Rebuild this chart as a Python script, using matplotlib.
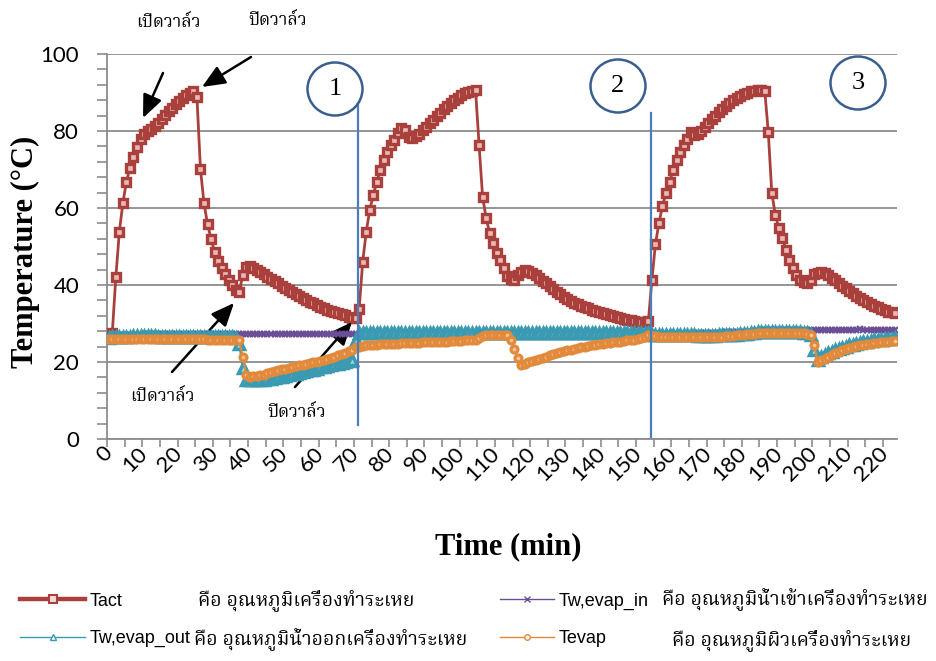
import matplotlib
matplotlib.use("Agg")
import matplotlib.pyplot as plt
from matplotlib import font_manager as fm
from matplotlib.lines import Line2D
from matplotlib.patches import Ellipse
from matplotlib.ticker import MultipleLocator, FixedLocator
import numpy as np

# ---------------- data ----------------
TACT = [
    27.0, 27.6, 42.0, 53.8, 61.3, 66.8, 70.4, 73.3, 75.9, 77.9,
    79.3, 80.0, 80.5, 81.2, 82.1, 83.1, 84.1, 85.1, 86.0, 86.9,
    87.8, 88.6, 89.3, 89.9, 90.4, 88.8, 70.1, 61.3, 55.8, 52.0,
    48.6, 46.2, 44.4, 42.8, 41.4, 40.0, 38.8, 38.2, 42.6, 44.8,
    45.0, 44.5, 44.0, 43.4, 42.8, 42.2, 41.6, 41.0, 40.4, 39.8,
    39.2, 38.7, 38.1, 37.6, 37.1, 36.6, 36.1, 35.7, 35.2, 34.8,
    34.4, 34.0, 33.6, 33.3, 33.0, 32.7, 32.4, 32.1, 31.8, 31.5,
    31.3, 33.8, 46.0, 53.8, 59.5, 63.4, 66.8, 69.9, 72.5, 74.5,
    76.4, 77.7, 79.5, 80.8, 80.2, 78.4, 78.3, 78.6, 79.3, 80.2,
    81.1, 82.0, 82.9, 83.8, 84.7, 85.6, 86.4, 87.2, 88.0, 88.7,
    89.3, 89.8, 90.2, 90.5, 90.6, 76.4, 62.9, 57.4, 53.5, 50.9,
    48.3, 46.5, 44.4, 42.3, 41.5, 41.3, 42.5, 43.4, 43.9, 43.6,
    43.1, 42.5, 41.8, 41.1, 40.4, 39.7, 39.0, 38.3, 37.6, 37.0,
    36.4, 35.9, 35.4, 35.0, 34.6, 34.2, 33.9, 33.6, 33.3, 33.0,
    32.7, 32.4, 32.1, 31.9, 31.6, 31.4, 31.2, 31.0, 30.8, 30.7,
    30.5, 30.4, 30.3, 30.6, 41.3, 50.6, 56.1, 60.5, 63.9, 66.8,
    69.9, 72.5, 74.5, 76.4, 77.9, 79.7, 79.0, 79.3, 80.0, 81.0,
    82.0, 83.0, 84.0, 84.9, 85.8, 86.6, 87.4, 88.1, 88.7, 89.2,
    89.7, 90.0, 90.3, 90.5, 90.6, 90.6, 90.5, 79.7, 63.9, 58.2,
    54.8, 52.2, 49.1, 46.5, 44.4, 42.6, 41.3, 40.8, 40.5, 41.2,
    42.8, 43.2, 43.3, 43.0, 42.5, 41.9, 41.2, 40.5, 39.8, 39.1,
    38.4, 37.8, 37.2, 36.6, 36.0, 35.5, 35.0, 34.6, 34.2, 33.8,
    33.4, 33.1, 32.9, 32.7,
]

TW_EVAP_IN = [
    26.8, 26.9, 26.9, 27.0, 27.0, 27.0, 27.1, 27.1, 27.1, 27.1,
    27.2, 27.2, 27.2, 27.2, 27.2, 27.2, 27.2, 27.3, 27.3, 27.3,
    27.3, 27.3, 27.2, 27.3, 27.3, 27.3, 27.3, 27.4, 27.3, 27.3,
    27.3, 27.3, 27.3, 27.3, 27.4, 27.3, 27.3, 27.3, 27.3, 27.2,
    27.2, 27.2, 27.2, 27.2, 27.2, 27.2, 27.2, 27.2, 27.2, 27.2,
    27.2, 27.2, 27.3, 27.3, 27.3, 27.3, 27.3, 27.3, 27.3, 27.3,
    27.3, 27.3, 27.3, 27.3, 27.3, 27.3, 27.3, 27.3, 27.4, 27.4,
    27.4, 27.3, 27.2, 27.1, 27.0, 27.0, 27.0, 26.9, 26.9, 26.9,
    26.9, 26.9, 26.9, 26.9, 26.9, 26.9, 27.0, 27.0, 27.0, 27.0,
    27.0, 27.0, 27.0, 27.0, 27.0, 27.1, 27.1, 27.1, 27.1, 27.1,
    27.1, 27.1, 27.1, 27.1, 27.1, 27.1, 27.2, 27.2, 27.2, 27.2,
    27.2, 27.2, 27.2, 27.2, 27.2, 27.2, 27.2, 27.2, 27.2, 27.2,
    27.2, 27.2, 27.2, 27.2, 27.2, 27.2, 27.2, 27.2, 27.2, 27.2,
    27.2, 27.2, 27.2, 27.2, 27.2, 27.2, 27.2, 27.2, 27.2, 27.2,
    27.2, 27.2, 27.2, 27.2, 27.2, 27.2, 27.2, 27.2, 27.2, 27.2,
    27.2, 27.2, 27.2, 27.2, 27.3, 27.3, 27.3, 27.3, 27.3, 27.3,
    27.4, 27.4, 27.4, 27.4, 27.4, 27.5, 27.5, 27.5, 27.5, 27.5,
    27.6, 27.6, 27.6, 27.6, 27.7, 27.7, 27.7, 27.7, 27.8, 27.8,
    27.8, 27.9, 27.9, 28.0, 28.1, 28.2, 28.3, 28.4, 28.4, 28.4,
    28.4, 28.4, 28.4, 28.4, 28.4, 28.4, 28.4, 28.4, 28.4, 28.4,
    28.4, 28.4, 28.4, 28.4, 28.4, 28.4, 28.4, 28.4, 28.4, 28.4,
    28.4, 28.4, 28.4, 28.5, 28.4, 28.4, 28.4, 28.4, 28.4, 28.4,
    28.4, 28.4, 28.4, 28.4,
]

TW_EVAP_OUT = [
    26.3, 26.4, 26.5, 26.5, 26.6, 26.6, 26.6, 26.7, 26.7, 26.7,
    26.7, 26.7, 26.7, 26.7, 26.6, 26.6, 26.6, 26.6, 26.6, 26.6,
    26.6, 26.5, 26.5, 26.5, 26.5, 26.5, 26.5, 26.5, 26.5, 26.5,
    26.5, 26.5, 26.4, 26.4, 26.4, 26.4, 26.3, 24.6, 18.5, 15.4,
    15.3, 15.3, 15.3, 15.4, 15.4, 15.5, 15.6, 15.8, 16.0, 16.2,
    16.4, 16.6, 16.8, 17.0, 17.2, 17.4, 17.6, 17.8, 18.0, 18.3,
    18.6, 18.8, 19.0, 19.2, 19.4, 19.6, 19.8, 20.0, 20.2, 20.5,
    25.8, 27.5, 27.5, 27.5, 27.6, 27.6, 27.6, 27.6, 27.6, 27.6,
    27.6, 27.6, 27.6, 27.6, 27.6, 27.6, 27.6, 27.6, 27.6, 27.6,
    27.6, 27.6, 27.6, 27.6, 27.6, 27.6, 27.6, 27.6, 27.6, 27.6,
    27.6, 27.6, 27.6, 27.6, 27.6, 27.6, 27.6, 27.6, 27.6, 27.6,
    27.6, 27.6, 27.6, 27.6, 27.6, 27.6, 27.6, 27.6, 27.6, 27.6,
    27.6, 27.6, 27.6, 27.6, 27.6, 27.6, 27.6, 27.6, 27.6, 27.6,
    27.6, 27.6, 27.6, 27.6, 27.6, 27.6, 27.6, 27.6, 27.6, 27.6,
    27.6, 27.6, 27.6, 27.6, 27.6, 27.6, 27.6, 27.6, 27.6, 27.6,
    27.6, 27.6, 27.6, 27.5, 27.0, 26.9, 26.9, 26.9, 26.9, 26.9,
    26.9, 26.9, 26.9, 26.9, 26.9, 26.9, 26.9, 26.8, 26.8, 26.8,
    26.8, 26.8, 26.8, 26.9, 26.9, 26.9, 27.0, 27.0, 27.1, 27.2,
    27.3, 27.4, 27.5, 27.6, 27.7, 27.7, 27.7, 27.7, 27.7, 27.7,
    27.7, 27.7, 27.7, 27.7, 27.7, 27.7, 27.7, 27.6, 27.5, 26.9,
    23.1, 20.5, 21.3, 21.8, 22.3, 22.7, 23.1, 23.4, 23.7, 24.0,
    24.3, 24.5, 24.7, 24.9, 25.1, 25.3, 25.5, 25.6, 25.7, 25.8,
    25.9, 26.0, 26.1, 26.2,
]

TEVAP = [
    25.9, 26.0, 26.0, 26.0, 26.1, 26.1, 26.1, 26.1, 26.1, 26.1,
    26.1, 26.1, 26.1, 26.0, 26.0, 26.0, 26.0, 26.0, 26.0, 26.0,
    25.9, 25.9, 25.9, 25.9, 25.9, 25.9, 25.9, 25.9, 25.8, 25.8,
    25.8, 25.8, 25.8, 25.8, 25.8, 25.8, 25.8, 25.6, 21.3, 16.6,
    16.2, 16.3, 16.4, 16.5, 16.6, 17.2, 17.5, 17.7, 17.9, 18.1,
    18.3, 18.5, 18.7, 18.9, 19.1, 19.3, 19.5, 19.7, 19.9, 20.1,
    20.3, 20.5, 20.8, 21.1, 21.4, 21.7, 22.0, 22.4, 22.8, 23.2,
    23.8, 24.0, 24.2, 24.3, 24.4, 24.5, 24.5, 24.6, 24.6, 24.7,
    24.7, 24.8, 24.8, 24.9, 24.9, 24.9, 25.0, 25.0, 25.0, 25.1,
    25.1, 25.1, 25.2, 25.2, 25.2, 25.3, 25.3, 25.4, 25.4, 25.5,
    25.5, 25.6, 25.6, 25.7, 25.8, 26.3, 26.7, 26.9, 27.0, 27.0,
    27.0, 27.0, 27.0, 26.9, 25.7, 23.4, 21.0, 19.3, 19.6, 19.9,
    20.2, 20.5, 20.8, 21.1, 21.4, 21.7, 22.0, 22.3, 22.5, 22.8,
    23.0, 23.2, 23.4, 23.6, 23.8, 24.0, 24.1, 24.3, 24.4, 24.6,
    24.7, 24.9, 25.0, 25.1, 25.2, 25.3, 25.5, 25.6, 25.7, 25.8,
    26.0, 26.2, 26.5, 27.0, 26.8, 26.7, 26.6, 26.6, 26.6, 26.6,
    26.6, 26.6, 26.6, 26.6, 26.5, 26.5, 26.5, 26.5, 26.5, 26.5,
    26.5, 26.5, 26.6, 26.6, 26.6, 26.7, 26.7, 26.8, 26.9, 27.0,
    27.1, 27.2, 27.3, 27.4, 27.5, 27.5, 27.5, 27.5, 27.5, 27.5,
    27.6, 27.6, 27.6, 27.6, 27.6, 27.6, 27.6, 27.5, 27.4, 27.0,
    24.4, 20.0, 20.4, 20.9, 21.4, 21.9, 22.3, 22.7, 23.0, 23.3,
    23.6, 23.9, 24.1, 24.3, 24.5, 24.6, 24.8, 24.9, 25.0, 25.1,
    25.2, 25.3, 25.4, 25.5,
]

SERIES_NAMES = ["Tact", "Tw,evap_in", "Tw,evap_out", "Tevap"]
SERIES_DESC = ["คือ อุณหภูมิเครื่องทำระเหย", "คือ อุณหภูมิน้ำเข้าเครื่องทำระเหย",
               "คือ อุณหภูมิน้ำออกเครื่องทำระเหย", "คือ อุณหภูมิผิวเครื่องทำระเหย"]
X_TICK_VALUES = [0, 10, 20, 30, 40, 50, 60, 70, 80, 90, 100, 110,
                 120, 130, 140, 150, 160, 170, 180, 190, 200, 210, 220]
X_TICK_LABELS = ["0", "10", "20", "30", "40", "50", "60", "70", "80", "90", "100", "110",
                 "120", "130", "140", "150", "160", "170", "180", "190", "200", "210", "220"]
Y_TICKS = [0, 20, 40, 60, 80, 100]
OPEN_VALVE = "เปิดวาล์ว"
CLOSE_VALVE = "ปิดวาล์ว"
CYCLE_LABELS = ["1", "2", "3"]

# ---------------- fonts ----------------
names = {f.name for f in fm.fontManager.ttflist}


def thai_fonts():
    try:
        from fontTools.ttLib import TTFont
    except Exception:
        return []
    test = "กคืออุณหภูมิเครื่องทำระเหย้ปวาล์"
    out = []
    for f in fm.fontManager.ttflist:
        try:
            kw = {"fontNumber": 0} if f.fname.lower().endswith((".ttc", ".otc")) else {}
            tt = TTFont(f.fname, lazy=True, **kw)
            cmap = tt.getBestCmap() or {}
            if all(ord(c) in cmap for c in test):
                out.append(f.name)
        except Exception:
            pass
    return out


tf = thai_fonts()
pref = ["Noto Serif Thai", "Noto Sans Thai", "Norasi", "TH Sarabun New", "Loma",
        "Garuda", "Kinnari", "FreeSerif", "FreeSans"]
THAI = next((p for p in pref if p in tf), tf[0] if tf else "DejaVu Sans")
NARROW = "Liberation Sans Narrow" if "Liberation Sans Narrow" in names else "Liberation Sans"
TICKFONT = "Lato" if "Lato" in names else "DejaVu Sans"
SERIF = "Liberation Serif" if "Liberation Serif" in names else "DejaVu Serif"

plt.rcParams["font.family"] = [TICKFONT, "DejaVu Sans"]

W, H = 936, 661


def fx(x):
    return x / W


def fy(y):
    return 1 - y / H


RED = "#A9403C"
PURPLE = "#6B4E98"
TEAL = "#3A9AB2"
ORANGE = "#E28A3C"
GRAY = "#8C8C8C"
BLUE = "#4A7EBB"
CIRCLE = "#3A5F8F"

fig = plt.figure(figsize=(W / 100, H / 100), dpi=100)
ax = fig.add_axes([fx(107), fy(439), 790 / W, 385 / H])

ax.plot(np.arange(len(TACT)), TACT, color=RED, lw=2.0, marker="s", ms=5.6,
        mfc="#E9B7B5", mec=RED, mew=2.4, zorder=3)
ax.plot(np.arange(len(TW_EVAP_IN)), TW_EVAP_IN, color=PURPLE, lw=2.4, marker="x", ms=4,
        mew=1.6, zorder=4)
ax.plot(np.arange(len(TW_EVAP_OUT)), TW_EVAP_OUT, color=TEAL, lw=1.5, marker="^", ms=6.5,
        mfc="#9FD2E0", mec=TEAL, mew=2.5, zorder=5)
ax.plot(np.arange(len(TEVAP)), TEVAP, color=ORANGE, lw=1.5, marker="o", ms=5,
        mfc="#F6C496", mec=ORANGE, mew=2.3, zorder=6)

ax.set_xlim(-0.5, len(TACT) - 0.5)
ax.set_ylim(Y_TICKS[0], Y_TICKS[-1])
ax.set_yticks(Y_TICKS)
ax.yaxis.set_minor_locator(MultipleLocator(4))
ax.set_xticks(X_TICK_VALUES)
ax.set_xticklabels(X_TICK_LABELS)
ax.xaxis.set_minor_locator(FixedLocator(np.arange(-0.5, len(TACT) - 1, 5)))

ax.yaxis.grid(True, which="major", color=GRAY, lw=1.3)
ax.set_axisbelow(True)
for s in ["top", "right"]:
    ax.spines[s].set_visible(False)
for s in ["left", "bottom"]:
    ax.spines[s].set_color(GRAY)
    ax.spines[s].set_linewidth(1.3)

ax.tick_params(axis="y", which="both", direction="out", length=7, width=1.2,
               color=GRAY, labelsize=16, pad=13)
ax.tick_params(axis="x", which="major", length=0, labelsize=16, pad=8)
ax.tick_params(axis="x", which="minor", direction="out", length=6, width=1.2, color=GRAY)
for lab in ax.get_xticklabels():
    lab.set_rotation(45)
    lab.set_ha("right")
    lab.set_va("center")
    lab.set_rotation_mode("anchor")

ax.set_ylabel("Temperature (°C)", fontfamily=SERIF, fontweight="bold", fontsize=22)
ax.yaxis.label.set_va("center")
ax.yaxis.set_label_coords((25 - 107) / 790, (439 - 252) / 385)
ax.set_xlabel("Time (min)", fontfamily=SERIF, fontweight="bold", fontsize=22)
ax.xaxis.label.set_va("center")
ax.xaxis.set_label_coords((508 - 107) / 790, (439 - 547) / 385)

# ---------------- annotations ----------------
ann_text = [(OPEN_VALVE, 168, 22), (CLOSE_VALVE, 278, 20),
            (OPEN_VALVE, 162, 396), (CLOSE_VALVE, 297, 412)]
for t, px, py in ann_text:
    fig.text(fx(px), fy(py), t, ha="center", va="center", fontsize=12.5,
             family=[THAI, "DejaVu Sans"])

arrows = [((163, 73), (143, 118)), ((251, 57), (202, 87)),
          ((172, 372), (234, 303)), ((295, 387), (352, 322))]
for (tx, ty), (hx, hy) in arrows:
    ax.annotate("", xy=(fx(hx), fy(hy)), xytext=(fx(tx), fy(ty)),
                xycoords="figure fraction", textcoords="figure fraction",
                arrowprops=dict(arrowstyle="-|>,head_length=0.7,head_width=0.3",
                                mutation_scale=20, lw=1.8, color="black",
                                shrinkA=0, shrinkB=0))

# vertical cycle separators
for vx, y0, y1 in [(358, 104, 425), (651, 113, 437)]:
    fig.add_artist(Line2D([fx(vx), fx(vx)], [fy(y0), fy(y1)], color=BLUE, lw=1.6,
                          transform=fig.transFigure, zorder=10))

# numbered circles
for lab, cx, cy in [(CYCLE_LABELS[0], 335, 89), (CYCLE_LABELS[1], 618, 86),
                    (CYCLE_LABELS[2], 858, 83)]:
    fig.add_artist(Ellipse((fx(cx), fy(cy)), 55 / W, 53 / H, transform=fig.transFigure,
                           fill=False, ec=CIRCLE, lw=1.8, zorder=11))
    fig.text(fx(cx), fy(cy), lab, ha="center", va="center", fontsize=19,
             fontfamily=SERIF, zorder=12)

# ---------------- legend ----------------
h_tact = Line2D([], [], color=RED, lw=3.2, marker="s", ms=6, mfc="#F2DCDB", mec=RED, mew=1.5)
h_win = Line2D([], [], color=PURPLE, lw=1.0, marker="x", ms=4, mew=1.0)
h_wout = Line2D([], [], color=TEAL, lw=1.0, marker="^", ms=5, mfc="white", mec=TEAL, mew=1.0)
h_evap = Line2D([], [], color=ORANGE, lw=1.0, marker="o", ms=4, mfc="white", mec=ORANGE, mew=1.0)

legprops = dict(loc="center left", frameon=False, borderpad=0, borderaxespad=0,
                handletextpad=0.25, labelspacing=1.15,
                prop={"family": NARROW, "size": 13})
leg1 = fig.legend([h_tact, h_wout], [SERIES_NAMES[0], SERIES_NAMES[2]],
                  bbox_to_anchor=(fx(20), fy(620)), handlelength=3.6, **legprops)
leg2 = fig.legend([h_win, h_evap], [SERIES_NAMES[1], SERIES_NAMES[3]],
                  bbox_to_anchor=(fx(500), fy(620)), handlelength=3.0, **legprops)

for desc, px, py in [(SERIES_DESC[0], 198, 600), (SERIES_DESC[1], 662, 600),
                     (SERIES_DESC[2], 194, 640), (SERIES_DESC[3], 672, 640)]:
    fig.text(fx(px), fy(py), desc, ha="left", va="center", fontsize=14,
             family=[THAI, "DejaVu Sans"])

fig.savefig("out.png", dpi=100)
